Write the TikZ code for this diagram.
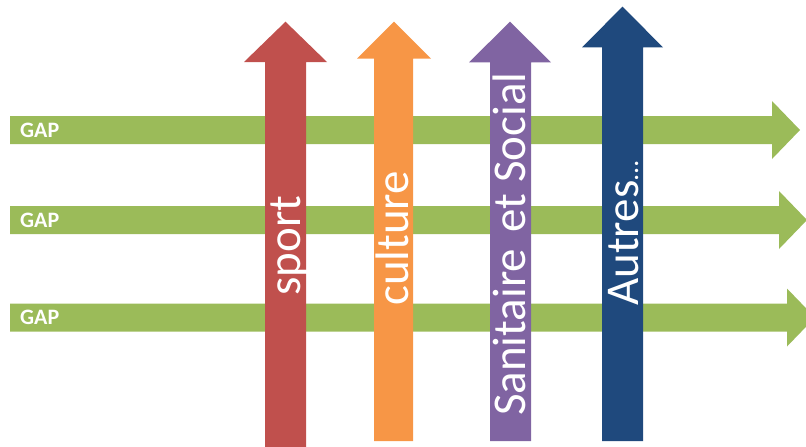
\documentclass[tikz,border=0pt]{standalone}
\usepackage{fontspec}
\setmainfont{Carlito}
\usetikzlibrary{positioning}
\tikzset{>=stealth}
\definecolor{gapgreen}{HTML}{9BBB59}
\definecolor{sportred}{HTML}{C0504D}
\definecolor{cultorange}{HTML}{F79646}
\definecolor{sanpurple}{HTML}{8064A2}
\definecolor{autblue}{HTML}{1F497D}
\tikzset{
  gaplabel/.style={text=white, font=\fontsize{22}{22}\selectfont\bfseries, inner sep=0pt, anchor=west},
  domlabel/.style={text=white, font=\fontsize{47}{47}\selectfont, inner sep=0pt, rotate=90, anchor=base west}
}

\begin{document}
\begin{tikzpicture}[x=1pt, y=-1pt]
      \useasboundingbox (0, 0) rectangle (806, 447);
      \clip (0, 0) rectangle (806, 447);

      % horizontal GAP arrows
      \fill [gapgreen] (10, 116)--(772, 116)--(772, 101)--(800, 130)--(772, 159)--(772, 144)--(10, 144)--cycle;
      \fill [gapgreen] (10, 206)--(779, 206)--(779, 191)--(807, 220)--(779, 249)--(779, 234)--(10, 234)--cycle;
      \fill [gapgreen] (10, 303.5)--(787, 303.5)--(787, 288.5)--(815, 317.5)--(787, 346.5)--(787, 331.5)--(10, 331.5)--cycle;

      \node (gap1) at (20, 130) [gaplabel] {GAP};
      \node (gap2) at (20, 220) [gaplabel] {GAP};
      \node (gap3) at (20, 317.5) [gaplabel] {GAP};

      % vertical arrows
      \fill [sportred] (265, 450)--(265, 62)--(244, 62)--(285.5, 21.7)--(327, 62)--(306, 62)--(306, 450)--cycle;
      \fill [cultorange] (374, 441)--(374, 58.7)--(357, 58.7)--(394, 21.7)--(431, 58.7)--(413, 58.7)--(413, 441)--cycle;
      \fill [sanpurple] (490, 441)--(490, 62.3)--(469, 62.3)--(510, 21.7)--(551, 62.3)--(531, 62.3)--(531, 441)--cycle;
      \fill [autblue] (602, 441)--(602, 47.3)--(582, 47.3)--(622.5, 6.7)--(663, 47.3)--(643, 47.3)--(643, 441)--cycle;

      \node (sport) at (300, 296) [domlabel] {sport};
      \node (culture) at (408, 306) [domlabel] {culture};
      \node (sanitaire) at (525, 416) [domlabel] {Sanitaire\hspace{0.12em} et Social};
      \node (autres) at (638, 306) [domlabel] {Autres{\fontsize{28}{28}\selectfont …}};
    \end{tikzpicture}
\end{document}
